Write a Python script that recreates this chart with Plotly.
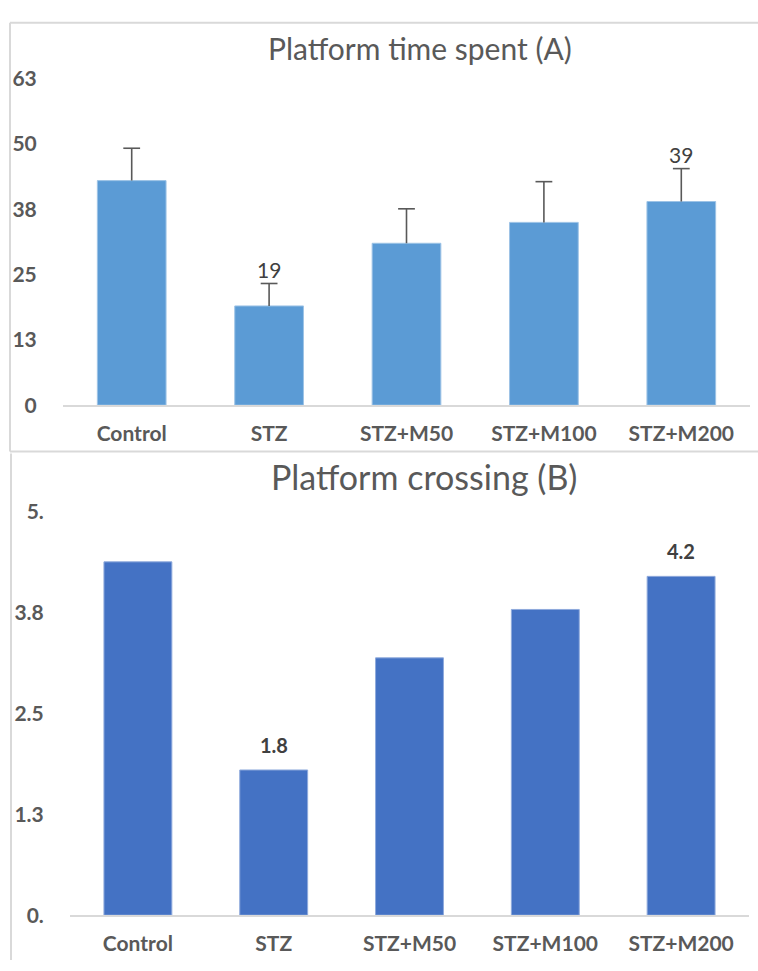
import plotly.graph_objects as go

W, H = 758, 971

# ---- data ----
groups = ["Control", "STZ", "STZ+M50", "STZ+M100", "STZ+M200"]
time_spent = [43.0, 19.0, 31.0, 35.0, 39.0]
time_spent_err = [6.2, 4.3, 6.6, 7.8, 6.3]
crossings = [4.38, 1.8, 3.19, 3.79, 4.2]

time_ticks = [0, 12.5, 25, 37.5, 50, 62.5]
time_ticktext = ["0", "13", "25", "38", "50", "63"]
cross_ticks = [0, 1.25, 2.5, 3.75, 5.0]
cross_ticktext = ["0.", "1.3", "2.5", "3.8", "5."]

labelled_time = {"STZ", "STZ+M200"}
labelled_cross = {"STZ", "STZ+M200"}


def px_x(px):
    return px / W


def px_y(py):
    return 1 - py / H


FONT = "Lato"
GREY = "#595959"
BORDER = "#D9D9D9"

fig = go.Figure()

fig.add_trace(go.Bar(
    x=groups, y=time_spent, xaxis="x", yaxis="y",
    marker=dict(color="#5B9BD5", line=dict(color="#9DC3E6", width=1)),
    hoverinfo="skip",
))

# upper-only error bars: stem from the bar top plus a cap at the end
stem_x, stem_y = [], []
for g, v, e in zip(groups, time_spent, time_spent_err):
    stem_x += [g, g, None]
    stem_y += [v, v + e, None]
fig.add_trace(go.Scatter(
    x=stem_x, y=stem_y, xaxis="x", yaxis="y", mode="lines",
    line=dict(color=GREY, width=1.6), hoverinfo="skip", cliponaxis=False,
))
fig.add_trace(go.Scatter(
    x=groups, y=[v + e for v, e in zip(time_spent, time_spent_err)],
    xaxis="x", yaxis="y", mode="markers",
    marker=dict(symbol="line-ew", size=12, line=dict(color=GREY, width=1.6)),
    hoverinfo="skip", cliponaxis=False,
))

fig.add_trace(go.Bar(
    x=groups, y=crossings, xaxis="x2", yaxis="y2",
    marker=dict(color="#4472C4", line=dict(color="#8FAADC", width=1)),
    hoverinfo="skip",
))

annotations = []
# value labels above the error bars (panel A)
for g, v, e in zip(groups, time_spent, time_spent_err):
    if g in labelled_time:
        annotations.append(dict(
            x=g, y=v + e, xref="x", yref="y", text=f"{v:.0f}", showarrow=False,
            yanchor="middle", yshift=14,
            font=dict(family=FONT, size=21, color="#404040"),
        ))
# value labels above the bars (panel B)
for g, v in zip(groups, crossings):
    if g in labelled_cross:
        annotations.append(dict(
            x=g, y=v, xref="x2", yref="y2", text=f"<b>{v:.1f}</b>", showarrow=False,
            yanchor="middle", yshift=25,
            font=dict(family=FONT, size=20, color="#404040"),
        ))
# panel titles
annotations.append(dict(
    x=px_x(420), y=px_y(35), xref="paper", yref="paper", text="Platform time spent (A)",
    showarrow=False, xanchor="center", yanchor="middle",
    font=dict(family=FONT, size=30, color=GREY),
))
annotations.append(dict(
    x=px_x(424), y=px_y(475), xref="paper", yref="paper", text="Platform crossing (B)",
    showarrow=False, xanchor="center", yanchor="middle",
    font=dict(family=FONT, size=34, color=GREY),
))

# chart frame lines
shapes = []
def frame_line(x0, y0, x1, y1):
    shapes.append(dict(type="line", xref="paper", yref="paper",
                       x0=px_x(x0), y0=px_y(y0), x1=px_x(x1), y1=px_y(y1),
                       line=dict(color=BORDER, width=2)))

frame_line(10, 9, W, 9)
frame_line(10, 9, 10, 449)
frame_line(10, 449, W, 449)
frame_line(11, 451, 11, H)

tickfont = dict(family=FONT, size=21, color=GREY)
catfont = dict(family=FONT, size=21, color=GREY)

fig.update_layout(
    width=W, height=H,
    margin=dict(l=0, r=0, t=0, b=0),
    paper_bgcolor="white", plot_bgcolor="white",
    showlegend=False,
    bargap=0.5,
    annotations=annotations,
    shapes=shapes,
    xaxis=dict(
        domain=[px_x(63), px_x(750)], anchor="y",
        showline=True, linecolor=BORDER, linewidth=2,
        showgrid=False, zeroline=False,
        ticks="outside", ticklen=9, tickcolor="rgba(0,0,0,0)",
        tickfont=catfont, tickprefix="<b>", ticksuffix="</b>",
    ),
    yaxis=dict(
        domain=[px_y(401.5), px_y(66.5)], anchor="x",
        range=[0, 62.5], showgrid=False, zeroline=False, showline=False,
        tickvals=time_ticks, ticktext=[f"<b>{t}</b>" for t in time_ticktext],
        ticks="outside", ticklen=21, tickcolor="rgba(0,0,0,0)",
        tickfont=tickfont,
    ),
    xaxis2=dict(
        domain=[px_x(70), px_x(749)], anchor="y2",
        showline=True, linecolor=BORDER, linewidth=2,
        showgrid=False, zeroline=False,
        ticks="outside", ticklen=9, tickcolor="rgba(0,0,0,0)",
        tickfont=catfont, tickprefix="<b>", ticksuffix="</b>",
    ),
    yaxis2=dict(
        domain=[px_y(925), px_y(511)], anchor="x2",
        range=[0, 5.0], showgrid=False, zeroline=False, showline=False,
        tickvals=cross_ticks, ticktext=[f"<b>{t}</b>" for t in cross_ticktext],
        ticks="outside", ticklen=21, tickcolor="rgba(0,0,0,0)",
        tickfont=tickfont,
    ),
)

fig.write_html("out.html")
